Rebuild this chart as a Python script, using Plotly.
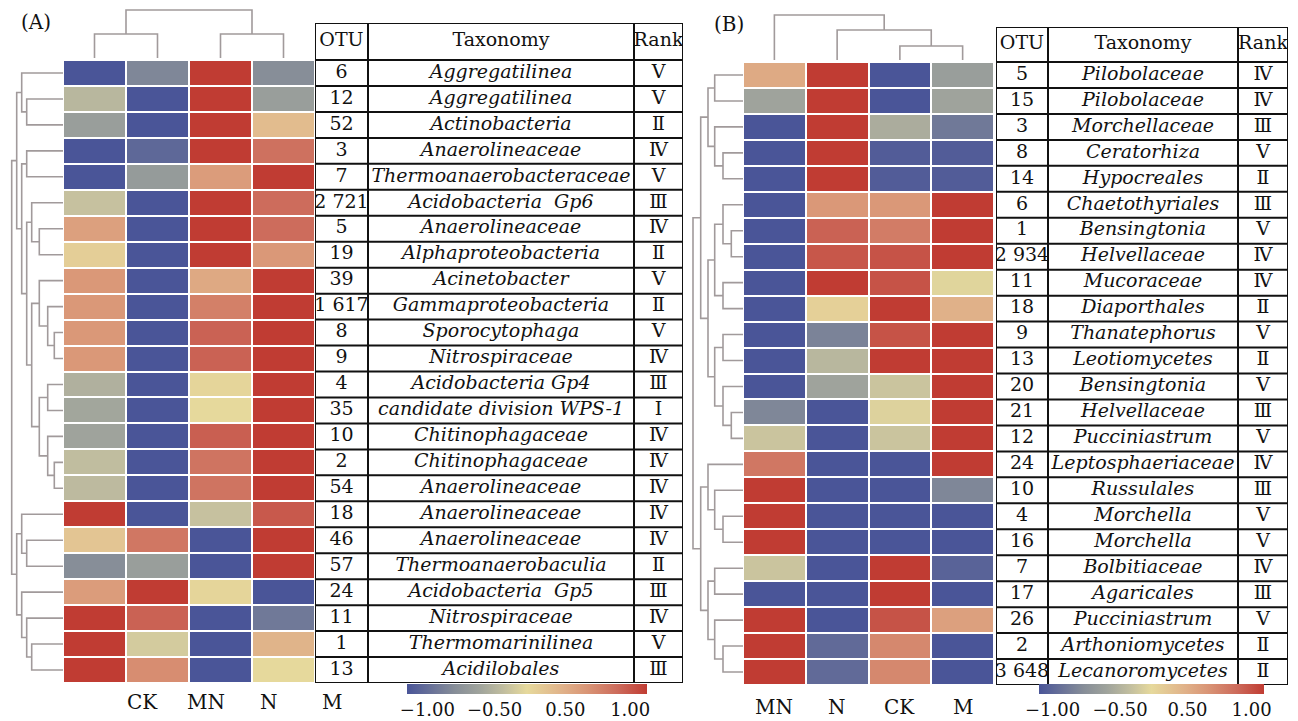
import plotly.graph_objects as go

W, H = 1298, 721
FONT = "DejaVu Serif"
INK = "#111111"
DCOL = "#a19a9b"

# ---------------- data ----------------
cols_A = ["CK", "MN", "N", "M"]
cols_B = ["MN", "N", "CK", "M"]

otu_A = ["6", "12", "52", "3", "7", "2 721", "5", "19", "39", "1 617", "8", "9",
         "4", "35", "10", "2", "54", "18", "46", "57", "24", "11", "1", "13"]
tax_A = ["Aggregatilinea", "Aggregatilinea", "Actinobacteria", "Anaerolineaceae",
         "Thermoanaerobacteraceae", "Acidobacteria  Gp6", "Anaerolineaceae",
         "Alphaproteobacteria", "Acinetobacter", "Gammaproteobacteria", "Sporocytophaga",
         "Nitrospiraceae", "Acidobacteria Gp4", "candidate division WPS-1",
         "Chitinophagaceae", "Chitinophagaceae", "Anaerolineaceae", "Anaerolineaceae",
         "Anaerolineaceae", "Thermoanaerobaculia", "Acidobacteria  Gp5", "Nitrospiraceae",
         "Thermomarinilinea", "Acidilobales"]
rank_A = ["Ⅴ", "Ⅴ", "Ⅱ", "Ⅳ", "Ⅴ", "Ⅲ", "Ⅳ", "Ⅱ", "Ⅴ", "Ⅱ", "Ⅴ", "Ⅳ",
          "Ⅲ", "Ⅰ", "Ⅳ", "Ⅳ", "Ⅳ", "Ⅳ", "Ⅳ", "Ⅱ", "Ⅲ", "Ⅳ", "Ⅴ", "Ⅲ"]
vals_A = [
    [-1.00, -0.65, 1.00, -0.60],
    [-0.25, -1.00, 1.00, -0.45],
    [-0.45, -1.00, 1.00, 0.22],
    [-1.00, -0.87, 1.00, 0.72],
    [-1.00, -0.48, 0.45, 1.00],
    [-0.17, -1.00, 1.00, 0.75],
    [0.42, -1.00, 1.00, 0.75],
    [0.08, -1.00, 1.00, 0.48],
    [0.48, -1.00, 0.36, 1.00],
    [0.48, -1.00, 0.63, 1.00],
    [0.48, -1.00, 0.80, 1.00],
    [0.48, -1.00, 0.80, 1.00],
    [-0.30, -1.00, 0.03, 1.00],
    [-0.38, -1.00, 0.00, 1.00],
    [-0.40, -1.00, 0.82, 1.00],
    [-0.20, -1.00, 0.70, 1.00],
    [-0.22, -1.00, 0.70, 1.00],
    [1.00, -1.00, -0.17, 0.85],
    [0.15, 0.68, -1.00, 1.00],
    [-0.60, -0.45, -1.00, 1.00],
    [0.45, 1.00, 0.03, -1.00],
    [1.00, 0.80, -1.00, -0.75],
    [1.00, -0.10, -1.00, 0.28],
    [1.00, 0.55, -1.00, 0.00],
]

otu_B = ["5", "15", "3", "8", "14", "6", "1", "2 934", "11", "18", "9", "13",
         "20", "21", "12", "24", "10", "4", "16", "7", "17", "26", "2", "3 648"]
tax_B = ["Pilobolaceae", "Pilobolaceae", "Morchellaceae", "Ceratorhiza", "Hypocreales",
         "Chaetothyriales", "Bensingtonia", "Helvellaceae", "Mucoraceae", "Diaporthales",
         "Thanatephorus", "Leotiomycetes", "Bensingtonia", "Helvellaceae", "Pucciniastrum",
         "Leptosphaeriaceae", "Russulales", "Morchella", "Morchella", "Bolbitiaceae",
         "Agaricales", "Pucciniastrum", "Arthoniomycetes", "Lecanoromycetes"]
rank_B = ["Ⅳ", "Ⅳ", "Ⅲ", "Ⅴ", "Ⅱ", "Ⅲ", "Ⅴ", "Ⅳ", "Ⅳ", "Ⅱ", "Ⅴ", "Ⅱ",
          "Ⅴ", "Ⅲ", "Ⅴ", "Ⅳ", "Ⅲ", "Ⅴ", "Ⅴ", "Ⅳ", "Ⅲ", "Ⅴ", "Ⅱ", "Ⅱ"]
vals_B = [
    [0.35, 1.00, -1.00, -0.45],
    [-0.40, 1.00, -1.00, -0.40],
    [-1.00, 1.00, -0.33, -0.75],
    [-1.00, 1.00, -0.95, -0.95],
    [-1.00, 1.00, -0.95, -0.95],
    [-1.00, 0.48, 0.48, 1.00],
    [-1.00, 0.80, 0.65, 1.00],
    [-1.00, 0.86, 0.88, 1.00],
    [-1.00, 1.00, 0.88, -0.03],
    [-1.00, 0.07, 1.00, 0.30],
    [-1.00, -0.68, 0.88, 1.00],
    [-1.00, -0.25, 1.00, 1.00],
    [-1.00, -0.40, -0.15, 1.00],
    [-0.65, -1.00, -0.05, 1.00],
    [-0.15, -1.00, -0.15, 1.00],
    [0.68, -1.00, -1.00, 1.00],
    [1.00, -1.00, -1.00, -0.65],
    [1.00, -1.00, -1.00, -1.00],
    [1.00, -1.00, -1.00, -1.00],
    [-0.15, -1.00, 1.00, -0.90],
    [-1.00, -1.00, 1.00, -1.00],
    [1.00, -1.00, 0.88, 0.42],
    [1.00, -0.85, 0.58, -1.00],
    [1.00, -0.85, 0.58, -1.00],
]

# dendrograms: (left, right, merge height); leaves are row/column indices
row_tree_A = (
    ((0, (1, 2, 36.3), 41.3),
     ((3, 4, 36.3),
      ((5, (6, 7, 23.7), 31.3),
       ((8, (9, (10, 11, 8.7), 15.3), 23.7),
        ((12, 13, 15.3), (14, (15, 16, 8.7), 15.3), 23.7), 31.3), 36.3), 41.3), 46.3),
    ((17, (18, 19, 36.3), 41.3),
     (20, (21, (22, 23, 31.3), 36.3), 41.3), 46.3),
    51.3)
col_tree_A = ((0, 1, 24), (2, 3, 24), 48)

row_tree_B = (
    (((0, 1, 28.3), (2, (3, 4, 20), 28.3), 35),
     (((5, (6, 7, 11.7), 20), (8, 9, 20), 28.3),
      ((10, 11, 20), (12, (13, 14, 11.7), 20), 28.3), 35), 42.3),
    ((15, (16, (17, 18, 20), 28.3), 35),
     ((19, 20, 28.3), (21, (22, 23, 20), 28.3), 35), 42.3),
    50)
col_tree_B = (0, (1, (2, 3, 14), 30), 45)

cbar_ticktext = ["−1.00", "−0.50", "0.50", "1.00"]
cbar_tickvals_A = [-0.83, -0.27, 0.32, 0.86]
cbar_tickvals_B = [-0.88, -0.28, 0.32, 0.89]

# ---------------- styles ----------------
colorscale = [
    [0.0, "#4a5598"], [0.2, "#878e98"], [0.3, "#9fa39c"], [0.4, "#c0bd9f"],
    [0.5, "#e6d99c"], [0.65, "#e0b189"], [0.75, "#d99576"], [0.875, "#cd6c5c"],
    [1.0, "#c03c33"],
]
widths_A = [53, 266, 49]
widths_B = [52, 190, 50]
ROWPX = 623 / 24
hdr_A = 37 / ROWPX
hdr_B = 35 / ROWPX
CELL_PX_A = 63          # heatmap A column width in pixels
LABEL_SHIFT_A = 48      # panel A column labels sit right of column centres


def py(px):
    return 1 - px / H


def px_(px):
    return px / W


def tree_lines(node, orient):
    xs, ys = [], []

    def rec(n):
        if isinstance(n, int):
            return float(n), 0.0
        a, b, h = n
        pa, ha = rec(a)
        pb, hb = rec(b)
        sp = [pa, pa, pb, pb, None]
        sh = [ha, h, h, hb, None]
        if orient == "row":
            xs.extend(sh); ys.extend(sp)
        else:
            xs.extend(sp); ys.extend(sh)
        return (pa + pb) / 2, h

    rec(node)
    return xs, ys


def table_traces(otu, tax, rank, widths, hdr, xa, ya):
    n = len(otu)
    tot = sum(widths)
    bounds = [0]
    for w_ in widths:
        bounds.append(bounds[-1] + w_)
    lx, ly = [], []
    for yv in [-hdr] + list(range(n + 1)):
        lx += [0, tot, None]; ly += [yv, yv, None]
    for xv in bounds:
        lx += [xv, xv, None]; ly += [-hdr, n, None]
    centers = [(bounds[i] + bounds[i + 1]) / 2 for i in range(3)]
    rows = [i + 0.5 for i in range(n)]
    tr = [go.Scatter(x=lx, y=ly, mode="lines", line=dict(color=INK, width=2),
                     xaxis=xa, yaxis=ya, hoverinfo="skip", showlegend=False)]
    tf = dict(family=FONT, size=19, color=INK)
    tr.append(go.Scatter(x=centers, y=[-hdr / 2] * 3, text=["OTU", "Taxonomy", "Rank"],
                         mode="text", textfont=dict(family=FONT, size=19, color=INK),
                         xaxis=xa, yaxis=ya, hoverinfo="skip", showlegend=False))
    tr.append(go.Scatter(x=[centers[0]] * n, y=rows, text=otu, mode="text", textfont=tf,
                         xaxis=xa, yaxis=ya, hoverinfo="skip", showlegend=False))
    tr.append(go.Scatter(x=[centers[1]] * n, y=rows, text=tax, mode="text",
                         textfont=dict(tf, style="italic"),
                         xaxis=xa, yaxis=ya, hoverinfo="skip", showlegend=False))
    tr.append(go.Scatter(x=[centers[2]] * n, y=rows, text=rank, mode="text", textfont=tf,
                         xaxis=xa, yaxis=ya, hoverinfo="skip", showlegend=False))
    return tr


def cbar(x0, length, y0, tickvals):
    return dict(orientation="h", x=px_(x0), xanchor="left", y=py(y0), yanchor="top",
                len=length, lenmode="pixels", thickness=10, thicknessmode="pixels",
                outlinewidth=0, tickvals=tickvals, ticktext=cbar_ticktext, ticks="",
                tickfont=dict(family=FONT, size=18, color=INK), xpad=0, ypad=0)


fig = go.Figure()

# heatmaps
fig.add_trace(go.Heatmap(z=vals_A, x=list(range(len(cols_A))), y=list(range(len(otu_A))),
                         colorscale=colorscale, zmin=-1, zmax=1, xgap=2, ygap=2,
                         xaxis="x", yaxis="y", hoverinfo="skip",
                         colorbar=cbar(407, 240, 684, cbar_tickvals_A)))
fig.add_trace(go.Heatmap(z=vals_B, x=list(range(len(cols_B))), y=list(range(len(otu_B))),
                         colorscale=colorscale, zmin=-1, zmax=1, xgap=2, ygap=2,
                         xaxis="x4", yaxis="y4", hoverinfo="skip",
                         colorbar=cbar(1039, 225, 684, cbar_tickvals_B)))

# dendrograms
for tree, orient, xa, ya in [(row_tree_A, "row", "x2", "y"), (col_tree_A, "col", "x", "y2"),
                             (row_tree_B, "row", "x5", "y4"), (col_tree_B, "col", "x4", "y5")]:
    xs, ys = tree_lines(tree, orient)
    fig.add_trace(go.Scatter(x=xs, y=ys, mode="lines", line=dict(color=DCOL, width=1.6),
                             xaxis=xa, yaxis=ya, hoverinfo="skip", showlegend=False))

# tables
for t in table_traces(otu_A, tax_A, rank_A, widths_A, hdr_A, "x3", "y3"):
    fig.add_trace(t)
for t in table_traces(otu_B, tax_B, rank_B, widths_B, hdr_B, "x6", "y6"):
    fig.add_trace(t)


def ax(domain, rng, anchor):
    return dict(domain=domain, range=rng, anchor=anchor, visible=False, fixedrange=True)


layout_axes = dict(
    xaxis=ax([px_(63), px_(315)], [-0.5, 3.5], "y"),
    yaxis=ax([py(683), py(60)], [23.5, -0.5], "x"),
    xaxis2=ax([0, px_(63)], [63, 0], "y"),
    yaxis2=ax([py(58), 1], [0, 58], "x"),
    xaxis3=ax([px_(315), px_(683)], [0, sum(widths_A)], "y3"),
    yaxis3=ax([py(683), py(23)], [24, -hdr_A], "x3"),
    xaxis4=ax([px_(743), px_(994)], [-0.5, 3.5], "y4"),
    yaxis4=ax([py(685), py(62)], [23.5, -0.5], "x4"),
    xaxis5=ax([px_(688), px_(743)], [55, 0], "y4"),
    yaxis5=ax([py(60), 1], [0, 60], "x4"),
    xaxis6=ax([px_(996), px_(1288)], [0, sum(widths_B)], "y6"),
    yaxis6=ax([py(685), py(27)], [24, -hdr_B], "x6"),
)

lab_font = dict(family=FONT, size=20, color=INK)
annots = [
    dict(text="(A)", x=px_(36), y=py(22), xref="paper", yref="paper", showarrow=False,
         xanchor="center", yanchor="middle", font=lab_font),
    dict(text="(B)", x=px_(729), y=py(24), xref="paper", yref="paper", showarrow=False,
         xanchor="center", yanchor="middle", font=lab_font),
]
for i, c in enumerate(cols_A):
    annots.append(dict(text=c, x=px_(63 + CELL_PX_A * (i + 0.5) + LABEL_SHIFT_A),
                       y=py(702), xref="paper", yref="paper", xanchor="center",
                       yanchor="middle", showarrow=False, font=lab_font))
for i, c in enumerate(cols_B):
    annots.append(dict(text=c, x=i, y=py(707), xref="x4", yref="paper", xanchor="center",
                       yanchor="middle", showarrow=False, font=lab_font))

fig.update_layout(width=W, height=H, margin=dict(l=0, r=0, t=0, b=0),
                  paper_bgcolor="white", plot_bgcolor="white", showlegend=False,
                  annotations=annots, **layout_axes)

fig.write_html("out.html", config={"displayModeBar": False},
               post_script="document.body.style.margin='0';")
